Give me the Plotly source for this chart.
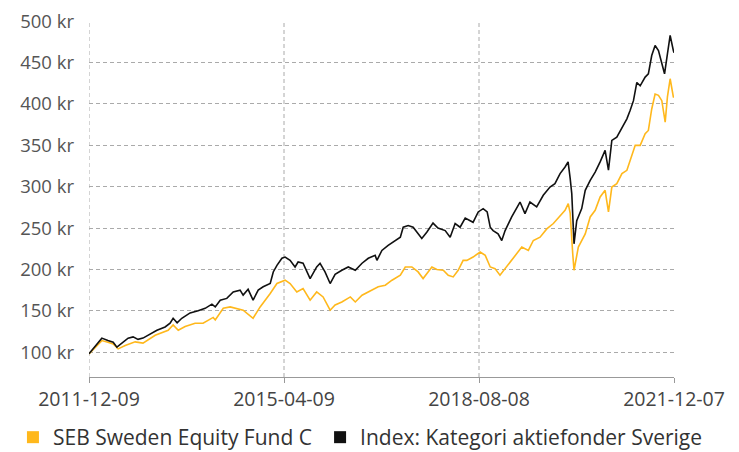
import plotly.graph_objects as go

# ---- data ----
fund_name = "SEB Sweden Equity Fund C"
index_name = "Index: Kategori aktiefonder Sverige"

fund_dates = [
    "2011-12-09", "2012-02-27", "2012-04-05", "2012-05-08", "2012-06-08", "2012-07-22", "2012-09-22",
    "2012-11-10", "2013-01-25", "2013-04-16", "2013-05-17", "2013-06-18", "2013-07-31", "2013-10-01",
    "2013-11-20", "2013-12-21", "2014-01-22", "2014-02-04", "2014-03-26", "2014-05-08", "2014-07-28",
    "2014-09-28", "2014-11-11", "2015-01-13", "2015-02-24", "2015-04-16", "2015-05-17", "2015-06-28",
    "2015-08-06", "2015-09-19", "2015-10-30", "2015-12-09", "2016-01-22", "2016-02-22", "2016-04-04",
    "2016-05-27", "2016-06-27", "2016-08-08", "2016-10-09", "2016-11-17", "2016-12-31", "2017-02-11",
    "2017-04-04", "2017-05-05", "2017-06-15", "2017-07-24", "2017-08-24", "2017-10-18", "2017-11-18",
    "2017-12-28", "2018-01-28", "2018-02-28", "2018-03-31", "2018-05-01", "2018-05-24", "2018-07-02",
    "2018-08-15", "2018-09-16", "2018-10-17", "2018-11-16", "2018-12-17", "2019-01-18", "2019-03-11",
    "2019-05-02", "2019-06-12", "2019-07-13", "2019-08-24", "2019-10-05", "2019-11-15", "2019-12-27",
    "2020-01-27", "2020-02-16", "2020-02-28", "2020-03-15", "2020-03-23", "2020-04-19", "2020-06-01",
    "2020-07-02", "2020-08-02", "2020-09-02", "2020-10-03", "2020-10-24", "2020-11-14", "2020-12-15",
    "2021-01-16", "2021-02-16", "2021-03-08", "2021-04-09", "2021-05-10", "2021-06-10", "2021-06-30",
    "2021-07-21", "2021-08-11", "2021-09-01", "2021-09-22", "2021-10-13", "2021-10-27", "2021-11-13",
    "2021-12-03", "2021-12-07",
]
fund_values = [
    98, 114, 112, 110, 104, 108, 112.5,
    111, 120.5, 126.5, 133, 126.5, 131, 135,
    135, 138.6, 142, 139, 153, 154.7, 150.7,
    141, 154.7, 171, 183, 187, 183, 172.8,
    177, 162.8, 172.8, 166.8, 150.7, 157, 160.7,
    166.8, 160.7, 168.8, 175, 179, 181, 187,
    193, 203, 203, 197, 189, 203, 200,
    199, 193, 191, 199, 211, 211, 215,
    221, 217, 203, 201, 193, 201, 215,
    227, 223, 235, 239, 249, 255.5, 265.5,
    271.5, 279.6, 268, 219, 199, 227, 243,
    263.5, 271.5, 287.6, 295.6, 269.5, 299.6, 303.7,
    315.8, 319.8, 331.9, 350, 350, 364, 368,
    394, 412, 410.5, 404, 378, 408.5, 430.5,
    408.5, 408,
]

index_dates = [
    "2011-12-09", "2012-02-27", "2012-04-05", "2012-05-08", "2012-05-31", "2012-07-01", "2012-08-09",
    "2012-09-09", "2012-10-10", "2012-11-10", "2012-12-12", "2013-02-05", "2013-03-28", "2013-04-28",
    "2013-05-17", "2013-06-11", "2013-07-10", "2013-08-31", "2013-10-20", "2013-12-03", "2014-01-14",
    "2014-02-04", "2014-03-07", "2014-04-17", "2014-05-27", "2014-07-09", "2014-07-28", "2014-08-28",
    "2014-09-28", "2014-10-30", "2014-11-30", "2015-01-13", "2015-02-01", "2015-02-24", "2015-03-27",
    "2015-04-16", "2015-05-17", "2015-06-17", "2015-07-06", "2015-08-06", "2015-09-19", "2015-10-30",
    "2015-11-20", "2015-12-21", "2016-01-22", "2016-02-22", "2016-04-04", "2016-05-14", "2016-06-27",
    "2016-08-08", "2016-09-16", "2016-10-29", "2016-11-09", "2016-12-10", "2017-01-18", "2017-03-03",
    "2017-04-04", "2017-04-22", "2017-05-23", "2017-06-23", "2017-07-24", "2017-08-16", "2017-09-16",
    "2017-10-25", "2017-11-25", "2018-01-09", "2018-02-09", "2018-03-12", "2018-04-12", "2018-05-14",
    "2018-07-02", "2018-08-03", "2018-09-03", "2018-09-28", "2018-10-17", "2018-11-04", "2018-12-05",
    "2018-12-28", "2019-01-18", "2019-02-28", "2019-04-21", "2019-05-22", "2019-06-22", "2019-08-03",
    "2019-09-13", "2019-10-25", "2019-11-25", "2019-12-27", "2020-01-27", "2020-02-15", "2020-02-28",
    "2020-03-09", "2020-03-23", "2020-04-09", "2020-05-10", "2020-06-01", "2020-07-02", "2020-08-02",
    "2020-09-02", "2020-10-03", "2020-10-24", "2020-11-14", "2020-12-15", "2021-01-16", "2021-02-16",
    "2021-03-08", "2021-03-29", "2021-04-19", "2021-05-10", "2021-06-10", "2021-06-30", "2021-07-21",
    "2021-08-11", "2021-09-01", "2021-09-22", "2021-10-09", "2021-10-27", "2021-11-13", "2021-12-03",
    "2021-12-07",
]
index_values = [
    98, 117, 114, 112, 106, 111, 117,
    118.5, 115.5, 117, 120.5, 126.5, 130.5, 135,
    141, 135.5, 141, 147.5, 150, 153, 158,
    154.7, 162.8, 165, 172.8, 175, 169, 176,
    163, 175, 179, 183, 197, 205, 213.5,
    215, 211, 203, 209, 207.5, 189, 203,
    207.5, 197, 183, 194, 199, 203, 199,
    207.5, 213.5, 217, 211, 223, 229, 235,
    239, 251, 253, 251, 243, 237.5, 245,
    256, 250, 247, 239, 255.5, 251, 262,
    257, 269.5, 273.5, 269.5, 251, 247, 243,
    235, 247, 263.5, 281.5, 267.5, 281.5, 275.6,
    289.6, 299.6, 303.7, 315.8, 323.8, 330, 310,
    291.6, 231, 259, 273.5, 295.6, 307.7, 317.7,
    330, 344, 320, 356, 360, 372, 382,
    392, 404, 426, 422, 432.5, 436.5, 458.6,
    470.6, 464.6, 450.5, 436.5, 460.6, 482.8, 464.6,
    462,
]

x_tick_dates = ["2011-12-09", "2015-04-09", "2018-08-08", "2021-12-07"]
y_tick_values = [100, 150, 200, 250, 300, 350, 400, 450, 500]
y_tick_labels = [f"{v} kr" for v in y_tick_values]

fund_color = "#FFB81C"
index_color = "#111111"
grid_color = "#aaaaaa"
font_family = "Open Sans, Lato, sans-serif"

fig = go.Figure()
fig.add_trace(go.Scatter(x=fund_dates, y=fund_values, mode="lines",
                         line=dict(color=fund_color, width=1.6), showlegend=False,
                         name=fund_name))
fig.add_trace(go.Scatter(x=index_dates, y=index_values, mode="lines",
                         line=dict(color=index_color, width=1.6), showlegend=False,
                         name=index_name))
# legend entries with square markers (one legend each, for exact placement)
fig.add_trace(go.Scatter(x=[None], y=[None], mode="markers", name=fund_name, legend="legend",
                         marker=dict(symbol="square", size=14, color=fund_color)))
fig.add_trace(go.Scatter(x=[None], y=[None], mode="markers", name=index_name, legend="legend2",
                         marker=dict(symbol="square", size=14, color=index_color)))

# vertical dashed grid lines at the date ticks (none on the right edge)
for d in x_tick_dates[:-1]:
    fig.add_shape(type="line", xref="x", yref="paper", x0=d, x1=d, y0=0, y1=1,
                  line=dict(color=grid_color, width=1, dash="4px,3px"), layer="below")

legend_common = dict(orientation="h", xanchor="left", y=-0.17, yanchor="middle",
                     font=dict(size=21, color="#333333"), itemsizing="constant",
                     bgcolor="rgba(0,0,0,0)")

fig.update_layout(
    width=739, height=452,
    margin=dict(l=81, r=73, t=13, b=83, autoexpand=False),
    paper_bgcolor="white", plot_bgcolor="white",
    font=dict(family=font_family, size=19, color="#444444"),
    showlegend=True,
    legend=dict(x=-0.13, **legend_common),
    legend2=dict(x=0.395, **legend_common),
)
fig.update_xaxes(
    type="date", range=[x_tick_dates[0], x_tick_dates[-1]],
    tickvals=x_tick_dates, ticktext=x_tick_dates, automargin=False,
    showgrid=False,
    showline=True, linecolor="#999999", linewidth=1,
    ticks="outside", ticklen=5, tickcolor="#999999",
    tickfont=dict(size=19.5, color="#444444"), zeroline=False,
    ticklabeloverflow="allow",
)
fig.update_yaxes(
    range=[70, 500.3], tickvals=y_tick_values, ticktext=y_tick_labels, automargin=False,
    showgrid=True, gridcolor=grid_color, gridwidth=1, griddash="4px,3px",
    showline=False, ticks="", ticklabelstandoff=14, ticklabeloverflow="allow",
    tickfont=dict(size=18.5, color="#555555"), zeroline=False,
)

fig.write_html("out.html")
